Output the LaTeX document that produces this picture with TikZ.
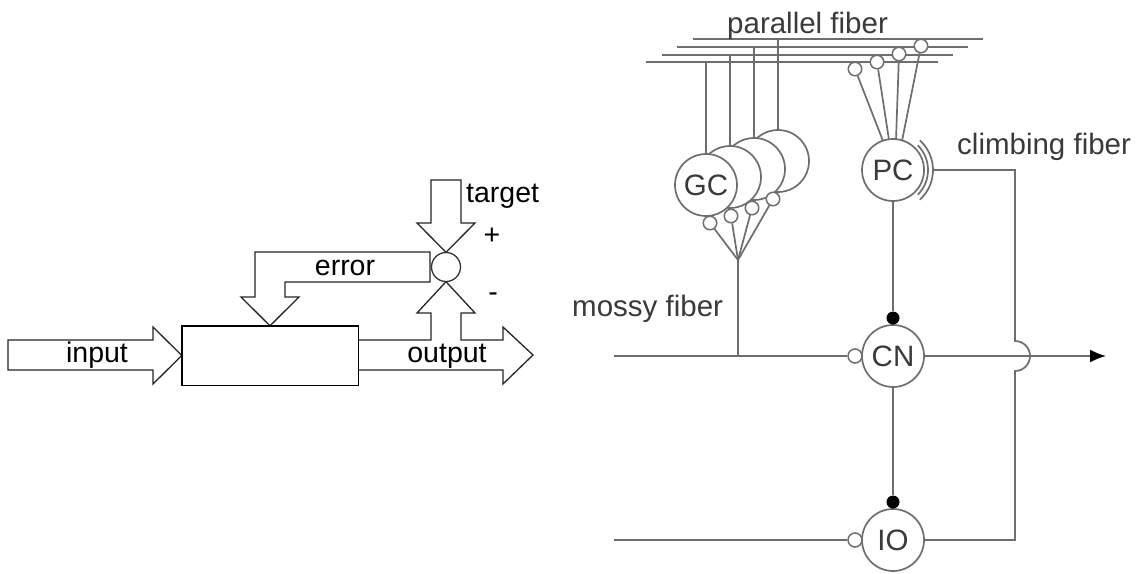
\documentclass[tikz,border=0pt]{standalone}
\usepackage{fontspec}
\setmainfont{Liberation Sans}
\usetikzlibrary{arrows.meta,calc}
\definecolor{fibgray}{HTML}{6E6E6E}
\definecolor{txtgray}{HTML}{3A3A3A}
\begin{document}
\begin{tikzpicture}[x=1pt,y=-1pt,
  blk/.style={draw=black!85, line width=1.3pt, line join=miter, fill=white},
  lft/.style={font=\fontsize{28.5}{30}\selectfont, text=black, inner sep=0pt},
  rgt/.style={font=\fontsize{29.5}{31}\selectfont, text=txtgray, inner sep=0pt},
  fib/.style={draw=fibgray, line width=1.7pt},
  cell/.style={circle, draw=fibgray, line width=1.7pt, fill=white, minimum size=62pt, inner sep=0pt, font=\fontsize{29.5}{31}\selectfont, text=txtgray},
  syn/.style={circle, draw=fibgray, line width=1.5pt, fill=white, minimum size=13.5pt, inner sep=0pt},
  exc/.style={circle, fill=black, minimum size=13pt, inner sep=0pt},
]
\fill[white] (0,0) rectangle (1147,573);
\useasboundingbox (0,0) rectangle (1147,573);

% ---------------- left: control loop ----------------
\node[minimum width=176pt, minimum height=59pt, inner sep=0pt] (box) at (270,355.5) {};
\node[circle, minimum size=29pt, inner sep=0pt] (sum) at (446,267) {};

% input arrow
\draw[blk] (8,340) -- (153,340) -- (153,327) -- (box.west) -- (153,384) -- (153,370) -- (8,370) -- cycle;
% output arrow with branch to the comparator
\draw[blk] (box.east |- 0,340) -- (431,340) -- (431,313) -- (417,313) -- (sum.south) -- (475,313) -- (461,313) -- (461,340)
  -- (503,340) -- (503,327) -- (533,355) -- (503,384) -- (503,370) -- (box.east |- 0,370);
% target arrow
\draw[blk] (431,180) -- (461,180) -- (461,223) -- (475,223) -- (sum.north) -- (417,223) -- (431,223) -- cycle;
% error arrow
\draw[blk] (430,252) -- (255,252) -- (255,297) -- (241,297) -- (box.north) -- (299,297) -- (285,297) -- (285,282) -- (430,282) -- cycle;
% box and comparator
\draw[line width=1.4pt] (box.south west) rectangle (box.north east);
\draw[draw=black!80, line width=1.3pt, fill=white] (sum) circle[radius=14.5pt];

\node[lft, anchor=base] (tin) at (97,362) {input};
\node[lft, anchor=base] (tout) at (447,362) {output};
\node[lft, anchor=base] (terr) at (345,275) {error};
\node[lft, anchor=base west] (ttar) at (466,202) {target};
\node[lft] (tplus) at (492,236) {+};
\node[lft] (tminus) at (493,297) {-};

% ---------------- right: cerebellar circuit ----------------
% parallel fibers
\coordinate (pf1w) at (693,39);  \coordinate (pf1e) at (983,39);
\coordinate (pf2w) at (677,47);  \coordinate (pf2e) at (968,47);
\coordinate (pf3w) at (662,55);  \coordinate (pf3e) at (953,55);
\coordinate (pf4w) at (646,62);  \coordinate (pf4e) at (938,62);
\draw[fib] (pf1w) -- (pf1e);
\draw[fib] (pf2w) -- (pf2e);
\draw[fib] (pf3w) -- (pf3e);
\draw[fib] (pf4w) -- (pf4e);
\node[rgt, anchor=base west] (tpf) at (727,33) {parallel fiber};

% granule cells (back to front)
\node[cell] (gc4) at (778,161) {};
\node[cell] (gc3) at (754,169) {};
\node[cell] (gc2) at (730,177) {};
\node[cell] (gc1) at (706,185) {GC};
\draw[fib] (gc4.north) -- (gc4.north |- pf1w);
\draw[fib] (gc3.north) -- (gc3.north |- pf2w);
\draw[fib] (gc2.north) -- (gc2.north |- pf3w);
\draw[fib] (gc1.north) -- (gc1.north |- pf4w);

% mossy fiber synapses on granule cells
\coordinate (mj) at (738,260);
\coordinate (mb) at (738,356);
\node[syn] (gs1) at (710,223) {};
\node[syn] (gs2) at (731,216) {};
\node[syn] (gs3) at (752,208) {};
\node[syn] (gs4) at (773,199) {};
\draw[fib] (gs1) -- (mj);
\draw[fib] (gs2) -- (mj);
\draw[fib] (gs3) -- (mj);
\draw[fib] (gs4) -- (mj);
\draw[fib] (mj) -- (mb);

% Purkinje cell
\node[cell] (pc) at (893,170) {PC};
\node[syn] (pd1) at (855,69) {};
\node[syn] (pd2) at (877,62) {};
\node[syn] (pd3) at (899,54) {};
\node[syn] (pd4) at (921,46) {};
\draw[fib] (pd1) -- ($(pc.center)+(-10,-29)$);
\draw[fib] (pd2) -- ($(pc.center)+(-4,-30)$);
\draw[fib] (pd3) -- ($(pc.center)+(3,-30)$);
\draw[fib] (pd4) -- ($(pc.center)+(9,-29)$);
% climbing fiber synapse arcs
\draw[fib] ($(pc.center)+(-45:35)$) arc[start angle=-45, end angle=45, radius=35];
\draw[fib] ($(pc.center)+(-48:40)$) arc[start angle=-48, end angle=48, radius=40];
\coordinate (cfend) at ($(pc.center)+(40,0)$);

% cerebellar nucleus and inferior olive
\node[cell] (cn) at (893,356) {CN};
\node[cell] (io) at (893,540) {IO};
\node[exc] (cndot) at (893,318) {};
\node[exc] (iodot) at (893,502) {};
\node[syn, minimum size=14pt] (cns) at (855,356) {};
\node[syn, minimum size=14pt] (ios) at (855,540) {};
\draw[fib] (pc) -- (cndot);
\draw[fib] (cn) -- (iodot);

\coordinate (mfin) at (614,356);
\coordinate (ioin) at (614,540);
\draw[fib] (mfin) -- (cns);
\draw[fib] (ioin) -- (ios);
\coordinate (outend) at (1106,356);
\draw[fib, -{Latex[length=16pt,width=13pt,color=black]}] (cn) -- (outend);
% climbing fiber from IO to PC, hopping over the CN output
\draw[fib] (io.east) -- (1015,540) -- (1015,371) arc[start angle=90, end angle=-90, radius=15] -- (1015,170) -- (cfend);

\node[rgt, anchor=base west] (tmf) at (572,316) {mossy fiber};
\node[rgt, anchor=base west] (tcf) at (957,154) {climbing fiber};
\end{tikzpicture}
\end{document}
